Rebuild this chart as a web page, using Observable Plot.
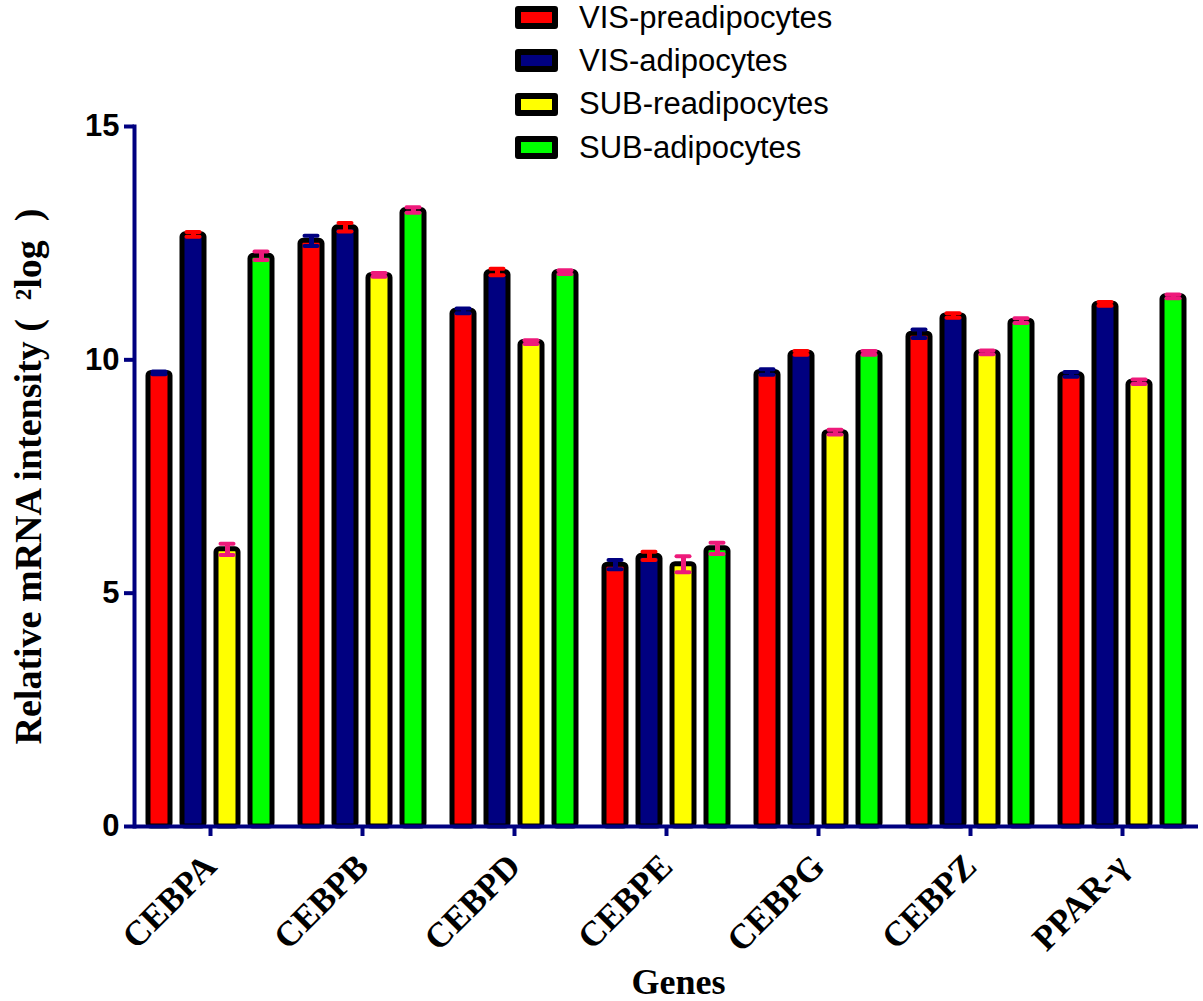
<!DOCTYPE html>
<html>
<head>
<meta charset="utf-8">
<script src="https://cdn.jsdelivr.net/npm/d3@7"></script>
<script src="https://cdn.jsdelivr.net/npm/@observablehq/plot@0.6"></script>
<style>
  html, body { margin: 0; padding: 0; background: #fff; }
  #wrap { position: relative; width: 1203px; height: 1001px; overflow: hidden; }
  #legend { position: absolute; left: 515px; top: -4px; font-family: "Liberation Sans", Arial, sans-serif; font-size: 31px; color: #000; }
  .row { display: flex; align-items: center; height: 43.3px; }
  .sw { width: 31px; height: 11px; border: 6px solid #000; border-radius: 3px; box-sizing: content-box; }
  .lab { margin-left: 21px; }
</style>
</head>
<body>
<div id="wrap"><div id="legend"></div></div>
<script>
const genes = ["CEBPA", "CEBPB", "CEBPD", "CEBPE", "CEBPG", "CEBPZ", "PPAR-γ"];
const seriesNames = ["VIS-preadipocytes", "VIS-adipocytes", "SUB-readipocytes", "SUB-adipocytes"];
const seriesColors = ["#ff0000", "#000080", "#ffff00", "#00ff00"];
const errorColors = ["#000080", "#ff0000", "#ee1a7b", "#ee1a7b"];

const visPre = [9.72, 12.55, 11.05, 5.61, 9.74, 10.56, 9.69];
const visAdi = [12.69, 12.84, 11.88, 5.80, 10.15, 10.95, 11.20];
const subPre = [5.94, 11.82, 10.38, 5.62, 8.45, 10.16, 9.53];
const subAdi = [12.23, 13.21, 11.88, 5.96, 10.15, 10.84, 11.36];

const errVisPre = [0.03, 0.11, 0.05, 0.10, 0.06, 0.09, 0.05];
const errVisAdi = [0.05, 0.09, 0.07, 0.09, 0.04, 0.05, 0.04];
const errSubPre = [0.12, 0.04, 0.04, 0.17, 0.05, 0.04, 0.05];
const errSubAdi = [0.09, 0.06, 0.04, 0.12, 0.04, 0.05, 0.04];

const yTicks = [0, 5, 10, 15];
const yLabel = "Relative mRNA intensity (  ²log  )";
const xLabel = "Genes";

const values = [visPre, visAdi, subPre, subAdi];
const errors = [errVisPre, errVisAdi, errSubPre, errSubAdi];
const data = [];
genes.forEach((g, gi) => {
  seriesNames.forEach((s, si) => {
    const v = values[si][gi], e = errors[si][gi];
    data.push({gene: g, series: s, value: v, lo: v - e, hi: v + e,
               fillColor: seriesColors[si], errColor: errorColors[si]});
  });
});

const navy = "#000080";
const serif = "Liberation Serif, Times New Roman, serif";

const chart = Plot.plot({
  width: 1203,
  height: 1001,
  marginTop: 126,
  marginBottom: 175,
  marginLeft: 133,
  marginRight: 4,
  fx: {domain: genes, padding: 0, axis: null},
  x: {domain: seriesNames, paddingInner: 0.34, paddingOuter: 0.35, axis: null},
  y: {domain: [0, 15], axis: null},
  marks: [
    Plot.barY(data, {fx: "gene", x: "series", y: "value", fill: "fillColor",
                     stroke: "#000", strokeWidth: 5, rx: 3}),
    Plot.ruleX(data, {fx: "gene", x: "series", y1: "lo", y2: "hi",
                      stroke: "errColor", strokeWidth: 5}),
    Plot.tickY(data, {fx: "gene", x: "series", y: "lo", stroke: "errColor",
                      strokeWidth: 4, insetLeft: 4.5, insetRight: 4.5, strokeLinecap: "round"}),
    Plot.tickY(data, {fx: "gene", x: "series", y: "hi", stroke: "errColor",
                      strokeWidth: 4, insetLeft: 4.5, insetRight: 4.5, strokeLinecap: "round"}),
    Plot.ruleY([0], {stroke: navy, strokeWidth: 4}),
    Plot.frame({anchor: "left", facetAnchor: "left", stroke: navy, strokeWidth: 4}),
    Plot.axisY({ticks: yTicks, tickSize: 10, stroke: navy, strokeWidth: 4,
                fill: "#000", fontSize: 31, fontWeight: "bold",
                fontFamily: "Liberation Sans, Arial, sans-serif",
                tickPadding: 5, label: null}),
    Plot.axisFx({anchor: "bottom", tickSize: 10, stroke: navy, strokeWidth: 4, fill: "#000",
                 tickRotate: -45, fontSize: 35, fontWeight: "bold", fontFamily: serif,
                 tickPadding: 24, label: null}),
    Plot.text([{gene: genes[3]}], {fx: "gene", frameAnchor: "bottom", dy: 156, dx: 12,
               lineAnchor: "middle", textAnchor: "middle",
               text: () => xLabel, fontSize: 36, fontWeight: "bold", fontFamily: serif, fill: "#000"}),
    Plot.text([{gene: genes[0]}], {fx: "gene", frameAnchor: "left", rotate: -90, dx: -106,
               textAnchor: "middle",
               text: () => yLabel, fontSize: 38, fontWeight: "bold", fontFamily: serif, fill: "#000"})
  ]
});

document.getElementById("wrap").prepend(chart);

const legend = d3.select("#legend");
seriesNames.forEach((s, i) => {
  const row = legend.append("div").attr("class", "row");
  row.append("div").attr("class", "sw").style("background", seriesColors[i]);
  row.append("div").attr("class", "lab").text(s);
});
</script>
</body>
</html>
